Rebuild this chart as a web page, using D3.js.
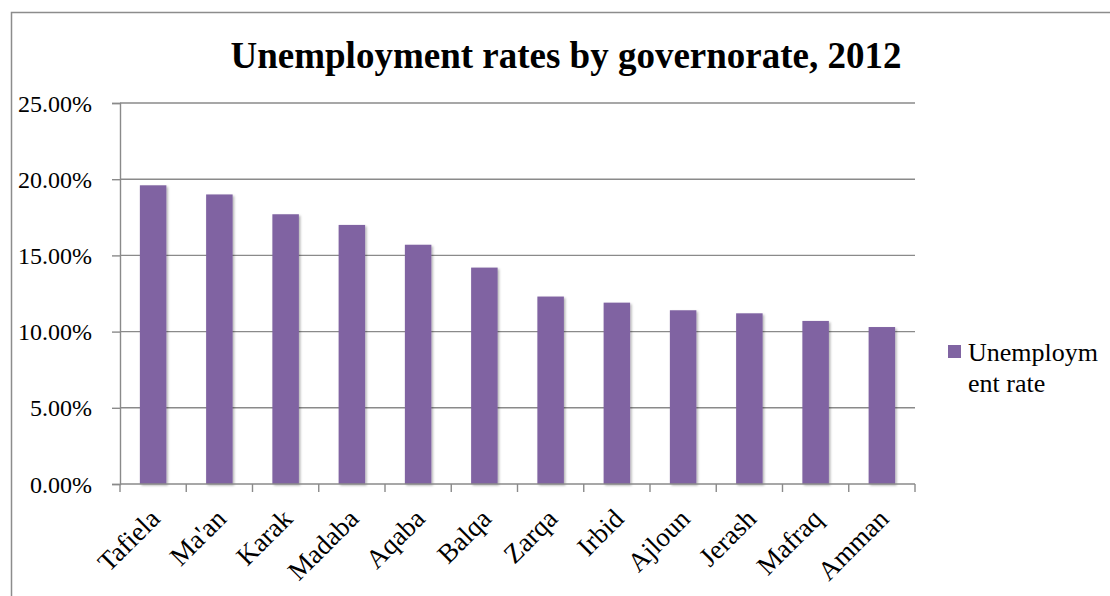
<!DOCTYPE html>
<html>
<head>
<meta charset="utf-8">
<script src="https://cdn.jsdelivr.net/npm/d3@7"></script>
<style>
  html, body { margin: 0; padding: 0; background: #fff; }
  svg { display: block; }
  text { font-family: "Liberation Serif", "Times New Roman", serif; fill: #000; }
</style>
</head>
<body>
<svg id="chart" width="1110" height="596"></svg>
<script>
// Unemployment rate (%) per governorate, 2012
const governorates = ["Tafiela", "Ma'an", "Karak", "Madaba", "Aqaba", "Balqa",
                      "Zarqa", "Irbid", "Ajloun", "Jerash", "Mafraq", "Amman"];
const rates = [19.6, 19.0, 17.7, 17.0, 15.7, 14.2, 12.3, 11.9, 11.4, 11.2, 10.7, 10.3];
const yTicks = [0, 5, 10, 15, 20, 25];
const seriesName = "Unemployment rate";
const legendLines = ["Unemploym", "ent rate"];
const chartTitle = "Unemployment rates by governorate, 2012";

const svg = d3.select("#chart");
const W = 1110, H = 596;
const plot = { left: 120, right: 915, top: 103, bottom: 484 };
const gridColor = "#8a8a8a";
const barColor = "#8064A2";

// outer chart frame (runs past the right and bottom edges)
svg.append("rect")
  .attr("x", 11.5).attr("y", 12.5)
  .attr("width", W + 20).attr("height", H + 20)
  .attr("fill", "#fff").attr("stroke", "#8c8c8c").attr("stroke-width", 1.5);

const defs = svg.append("defs");
const shadow = defs.append("filter").attr("id", "barShadow")
  .attr("x", "-20%").attr("y", "-5%").attr("width", "150%").attr("height", "115%");
shadow.append("feDropShadow")
  .attr("dx", 1.5).attr("dy", 1.5).attr("stdDeviation", 1.3)
  .attr("flood-color", "#000").attr("flood-opacity", 0.3);

const x = d3.scaleBand().domain(governorates)
  .range([plot.left, plot.right]).paddingInner(0.6).paddingOuter(0.3);
const y = d3.scaleLinear().domain([0, 25]).range([plot.bottom, plot.top]);

// horizontal gridlines
svg.append("g").selectAll("line").data(yTicks.filter(d => d > 0)).join("line")
  .attr("x1", plot.left).attr("x2", plot.right)
  .attr("y1", d => y(d)).attr("y2", d => y(d))
  .attr("stroke", gridColor).attr("stroke-width", 1.4);

// y axis
const yAxis = svg.append("g").attr("transform", `translate(${plot.left},0)`)
  .call(d3.axisLeft(y).tickValues(yTicks).tickSize(8).tickPadding(20)
    .tickFormat(d => d.toFixed(2) + "%"));
yAxis.select(".domain").attr("stroke", gridColor).attr("stroke-width", 1.4);
yAxis.selectAll(".tick line").attr("stroke", gridColor).attr("stroke-width", 1.4);
yAxis.selectAll(".tick text")
  .style("font-family", "'Liberation Serif', 'Times New Roman', serif")
  .style("font-size", "24px").attr("fill", "#000").attr("dy", "0.34em");

// bars
svg.append("g").selectAll("rect").data(governorates).join("rect")
  .attr("x", d => x(d))
  .attr("width", x.bandwidth())
  .attr("y", (d, i) => y(rates[i]))
  .attr("height", (d, i) => y(0) - y(rates[i]))
  .attr("fill", barColor)
  .attr("filter", "url(#barShadow)");

// x axis with tick marks at category boundaries
const xBoundaries = d3.range(governorates.length + 1).map(i => plot.left + i * (plot.right - plot.left) / governorates.length);
const xg = svg.append("g");
xg.append("line").attr("x1", plot.left).attr("x2", plot.right)
  .attr("y1", plot.bottom).attr("y2", plot.bottom)
  .attr("stroke", gridColor).attr("stroke-width", 1.4);
xg.selectAll("line.tk").data(xBoundaries).join("line").attr("class", "tk")
  .attr("x1", d => d).attr("x2", d => d)
  .attr("y1", plot.bottom).attr("y2", plot.bottom + 8)
  .attr("stroke", gridColor).attr("stroke-width", 1.4);

// rotated category labels
xg.selectAll("text").data(governorates).join("text")
  .attr("transform", d => `translate(${x(d) + x.bandwidth() / 2 - 5},${plot.bottom + 23}) rotate(-45)`)
  .attr("text-anchor", "end")
  .attr("dy", "0.7em")
  .style("font-size", "27px")
  .text(d => d);

// title
svg.append("text")
  .attr("x", 566).attr("y", 68)
  .attr("text-anchor", "middle")
  .style("font-size", "37px").style("font-weight", "bold")
  .text(chartTitle);

// legend
const lg = svg.append("g").attr("aria-label", seriesName);
lg.append("rect").attr("x", 948).attr("y", 345).attr("width", 13).attr("height", 13).attr("fill", barColor);
lg.selectAll("text").data(legendLines).join("text")
  .attr("x", 968).attr("y", (d, i) => 361 + i * 31)
  .style("font-size", "26px")
  .text(d => d);
</script>
</body>
</html>
